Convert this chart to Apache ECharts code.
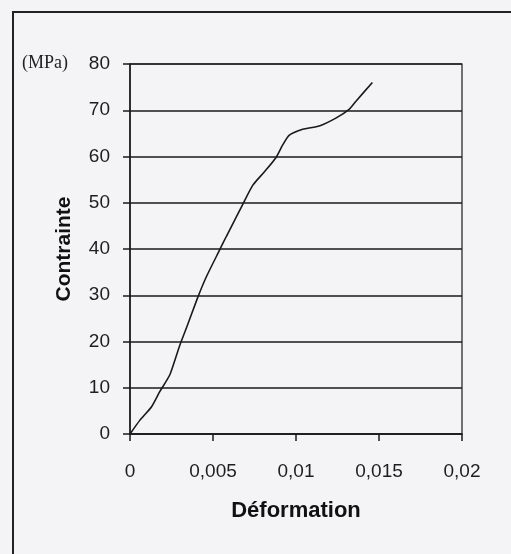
<!DOCTYPE html>
<html>
<head>
<meta charset="utf-8">
<script src="https://cdn.jsdelivr.net/npm/echarts@6/dist/echarts.min.js"></script>
<style>
html,body{margin:0;padding:0;background:#f4f4f6;}
#c{width:511px;height:554px;}
</style>
</head>
<body>
<div id="c"></div>
<script>
const deformation = [0, 0.0006, 0.0013, 0.0018, 0.0024, 0.0030, 0.0035, 0.0041, 0.0046, 0.0054, 0.0058, 0.0068, 0.0074, 0.0081, 0.0088, 0.0092, 0.0096, 0.0104, 0.0114, 0.0124, 0.0132, 0.0136, 0.0146];
const contrainte = [0, 3, 5.9, 9.2, 12.8, 19.2, 23.9, 29.7, 34, 39.8, 42.7, 49.7, 53.8, 56.7, 59.8, 62.5, 64.6, 65.9, 66.6, 68.3, 70.2, 71.9, 76];
const xTickLabels = {"0": "0", "0.005": "0,005", "0.01": "0,01", "0.015": "0,015", "0.02": "0,02"};
const xTitle = "Déformation";
const yTitle = "Contrainte";
const yUnit = "(MPa)";

const chart = echarts.init(document.getElementById('c'), null, {renderer: 'canvas'});
const pts = deformation.map((d, i) => [d, contrainte[i]]);
chart.setOption({
  backgroundColor: '#f4f4f6',
  animation: false,
  grid: {left: 130, right: 49, top: 64, bottom: 120, show: true, borderColor: '#1a1a1a', borderWidth: 1.2, backgroundColor: 'transparent'},
  xAxis: {
    type: 'value', min: 0, max: 0.02, interval: 0.005,
    axisLine: {show: true, onZero: false, lineStyle: {color: '#1a1a1a', width: 1.5}},
    axisTick: {show: true, length: 7, lineStyle: {color: '#1a1a1a', width: 1.5}},
    splitLine: {show: false},
    axisLabel: {margin: 28, color: '#1e1e1e', fontFamily: 'Liberation Sans, Arial', fontSize: 19,
      formatter: v => xTickLabels[String(+v.toFixed(3))] ?? String(v).replace('.', ',')},
    name: xTitle, nameLocation: 'middle', nameGap: 66,
    nameTextStyle: {color: '#111', fontFamily: 'Liberation Sans, Arial', fontWeight: 'bold', fontSize: 22}
  },
  yAxis: {
    type: 'value', min: 0, max: 80, interval: 10,
    axisLine: {show: true, lineStyle: {color: '#1a1a1a', width: 1.5}},
    axisTick: {show: true, length: 7, lineStyle: {color: '#1a1a1a', width: 1.5}},
    splitLine: {show: true, lineStyle: {color: '#1a1a1a', width: 1.6}},
    axisLabel: {margin: 20, color: '#1e1e1e', fontFamily: 'Liberation Sans, Arial', fontSize: 19},
    name: yTitle, nameLocation: 'middle', nameGap: 55, nameRotate: 90,
    nameTextStyle: {color: '#111', fontFamily: 'Liberation Sans, Arial', fontWeight: 'bold', fontSize: 21}
  },
  graphic: [
    {type: 'rect', shape: {x: 13, y: 12, width: 700, height: 700}, style: {fill: 'none', stroke: '#222', lineWidth: 2}, silent: true, z: 100},
    {type: 'text', left: 22, top: 54, style: {text: yUnit, font: '18px "Liberation Serif", "Times New Roman", serif', fill: '#222'}, z: 100}
  ],
  series: [{
    type: 'line', data: pts, symbol: 'none', smooth: 0.2,
    lineStyle: {color: '#1a1a1a', width: 1.6}
  }]
});
</script>
</body>
</html>
